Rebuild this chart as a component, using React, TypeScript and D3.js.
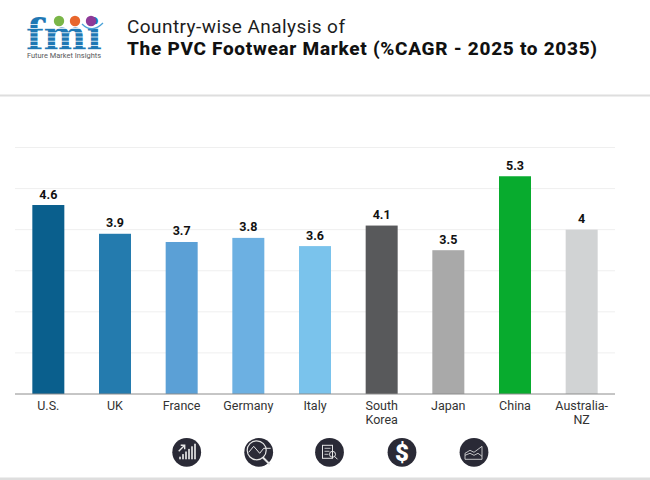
import React from "react";
import { scaleBand, scaleLinear, range } from "d3";

const categories = ["U.S.", "UK", "France", "Germany", "Italy", "South Korea", "Japan", "China", "Australia-NZ"];
const values = [4.6, 3.9, 3.7, 3.8, 3.6, 4.1, 3.5, 5.3, 4];
const barColors = ["#0a5f8d", "#247bae", "#5ba0d6", "#6cb0e2", "#7ac3ec", "#58595b", "#a9a9a9", "#08ab2e", "#d1d3d4"];
const labelLines = [["U.S."], ["UK"], ["France"], ["Germany"], ["Italy"], ["South", "Korea"], ["Japan"], ["China"], ["Australia-", "NZ"]];
const gridTicks = [0, 1, 2, 3, 4, 5, 6];
const iconCentres = [186.7, 258.7, 329.5, 402, 474];

const width = 650;
const height = 480;
const margin = { left: 15, right: 35, top: 147.5, bottom: 86 };
const font = "Roboto, sans-serif";

function Logo() {
  const stripes = range(0, 7).map((i) => 24 + i * 4.2);
  return (
    <g>
      <text x={26} y={50} fontFamily="'DejaVu Serif', serif" fontWeight={700} fontSize={43} fill="#1f78b4" textLength={76} lengthAdjust="spacingAndGlyphs">fmi</text>
      {stripes.map((y) => (
        <rect key={y} x={24} y={y} width={80} height={0.8} fill="#fff" />
      ))}
      <circle cx={59} cy={21} r={5.2} fill="#7ab648" />
      <circle cx={75} cy={21} r={5.2} fill="#e8662c" />
      <circle cx={91} cy={21} r={5.2} fill="#8e3a98" />
      <path d="M82,24 Q92,34 103,23" fill="none" stroke="#4da3d8" strokeWidth={1.3} />
      <text x={27} y={58} fontFamily={font} fontSize={8} fill="#58595b" textLength={74} lengthAdjust="spacingAndGlyphs">Future Market Insights</text>
    </g>
  );
}

function Icon({ cx, index }: { cx: number; index: number }) {
  const cy = 452.3;
  const s = { fill: "none", stroke: "#e6e6e6", strokeWidth: 1 };
  return (
    <g>
      <circle cx={cx} cy={cy} r={14.4} fill="#2a2a36" />
      {index === 0 && (
        <g>
          {range(0, 6).map((i) => (
            <rect key={i} x={cx - 7.5 + i * 3} y={cy + 7 - (i + 1) * 2.6} width={1.6} height={(i + 1) * 2.6} fill="#eee" />
          ))}
          <path d={`M${cx - 8},${cy - 1} L${cx - 2},${cy - 7} M${cx - 6},${cy - 7} H${cx - 2} V${cy - 3}`} {...s} strokeWidth={1.4} />
        </g>
      )}
      {index === 1 && (
        <g>
          <circle cx={cx - 2} cy={cy - 2} r={9.5} {...s} strokeWidth={1.2} />
          <path d={`M${cx - 10},${cy} L${cx - 5},${cy - 6} L${cx + 1},${cy + 1} L${cx + 5},${cy - 4} H${cx + 12}`} {...s} />
          <path d={`M${cx + 4},${cy + 5} L${cx + 11},${cy + 12}`} {...s} strokeWidth={2} />
        </g>
      )}
      {index === 2 && (
        <g>
          <rect x={cx - 7} y={cy - 7} width={10} height={13} {...s} />
          <path d={`M${cx - 5},${cy - 4} h6 M${cx - 5},${cy - 1} h5 M${cx - 5},${cy + 2} h4`} {...s} strokeWidth={0.8} />
          <circle cx={cx + 3} cy={cy + 2} r={3} {...s} />
          <path d={`M${cx + 5},${cy + 4} l3,3`} {...s} />
        </g>
      )}
      {index === 3 && (
        <text x={cx} y={cy + 8.5} textAnchor="middle" fontFamily={font} fontWeight={900} fontSize={24} fill="#fff">$</text>
      )}
      {index === 4 && (
        <g>
          <path d={`M${cx - 9},${cy + 7} V${cy + 1} L${cx - 4},${cy - 2} L${cx},${cy} L${cx + 8},${cy - 6} V${cy + 7} Z`} {...s} strokeWidth={0.8} />
          <path d={`M${cx - 9},${cy + 3} L${cx - 4},${cy + 1} L${cx},${cy + 3} L${cx + 4},${cy + 1} L${cx + 8},${cy + 4}`} {...s} strokeWidth={0.8} />
        </g>
      )}
    </g>
  );
}

export default function App() {
  const x = scaleBand<string>()
    .domain(categories)
    .range([margin.left, width - margin.right])
    .paddingInner(0.52)
    .paddingOuter(0.26);
  const y = scaleLinear().domain([0, 6]).range([height - margin.bottom, margin.top]);

  return (
    <svg width={width} height={height} style={{ position: "absolute", left: 0, top: 0, background: "#fff" }}>
      <Logo />
      <text x={127} y={33} fontFamily={font} fontSize={19} fill="#1d1d1d" textLength={218} lengthAdjust="spacing">Country-wise Analysis of</text>
      <text x={127} y={55} fontFamily={font} fontWeight={800} fontSize={19} fill="#111" textLength={470} lengthAdjust="spacing">The PVC Footwear Market (%CAGR - 2025 to 2035)</text>
      <rect x={0} y={94.5} width={width} height={2} fill="#dedede" />
      <rect x={0} y={477.5} width={width} height={2.5} fill="#dedede" />

      {/* grid */}
      {gridTicks.slice(1).map((t) => (
        <line key={t} x1={margin.left} x2={width - margin.right} y1={y(t)} y2={y(t)} stroke="#efefef" strokeWidth={1} />
      ))}

      {categories.map((c, i) => (
        <g key={c}>
          <rect x={x(c)} y={y(values[i])} width={x.bandwidth()} height={y(0) - y(values[i])} fill={barColors[i]} />
          <text x={x(c)! + x.bandwidth() / 2} y={y(values[i]) - 6.5} textAnchor="middle" fontFamily={font} fontWeight={700} fontSize={12.5} fill="#111">{values[i]}</text>
          {labelLines[i].map((line, j) => (
            <text key={line} x={x(c)! + x.bandwidth() / 2} y={410 + j * 14} textAnchor="middle" fontFamily={font} fontSize={12.5} fill="#333">{line}</text>
          ))}
        </g>
      ))}
      <line x1={margin.left} x2={width - margin.right} y1={y(0)} y2={y(0)} stroke="#8c8c8c" strokeWidth={1} />

      {iconCentres.map((cx, i) => (
        <Icon key={cx} cx={cx} index={i} />
      ))}
    </svg>
  );
}
